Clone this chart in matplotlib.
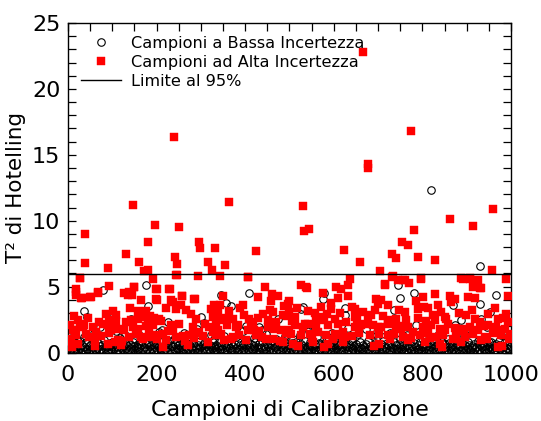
import matplotlib
matplotlib.use("Agg")
import matplotlib.pyplot as plt
from matplotlib.ticker import MultipleLocator

# Low-uncertainty calibration samples (sample index, T^2)
low_x = [
    1, 3, 5, 7, 9, 11, 13, 15, 17, 19, 21, 23, 26, 28, 30,
    32, 34, 36, 39, 41, 43, 45, 47, 49, 52, 54, 56, 58, 60, 62,
    64, 66, 68, 70, 73, 75, 77, 79, 81, 83, 85, 87, 89, 91, 94,
    96, 98, 100, 102, 104, 106, 108, 110, 112, 115, 117, 119, 121, 123, 125,
    127, 129, 131, 133, 136, 138, 140, 142, 144, 146, 148, 150, 152, 155, 157,
    159, 161, 163, 165, 167, 169, 171, 173, 176, 178, 180, 182, 184, 186, 188,
    190, 192, 194, 197, 199, 201, 203, 205, 207, 209, 211, 213, 215, 218, 220,
    222, 224, 226, 228, 230, 232, 234, 236, 239, 241, 243, 245, 247, 249, 251,
    253, 255, 257, 260, 262, 264, 266, 268, 270, 272, 274, 276, 278, 281, 283,
    285, 287, 289, 291, 293, 295, 297, 299, 302, 304, 306, 308, 310, 312, 314,
    316, 318, 320, 323, 325, 327, 329, 331, 333, 335, 337, 339, 341, 344, 346,
    348, 350, 352, 354, 356, 358, 360, 362, 365, 367, 369, 371, 373, 375, 377,
    379, 381, 383, 386, 388, 390, 392, 394, 396, 398, 400, 402, 404, 407, 409,
    411, 413, 415, 417, 419, 421, 423, 425, 428, 430, 432, 434, 436, 438, 440,
    442, 444, 446, 449, 451, 453, 455, 457, 459, 461, 463, 465, 467, 470, 472,
    474, 476, 478, 480, 482, 484, 486, 488, 491, 493, 495, 497, 499, 501, 503,
    505, 507, 509, 512, 514, 516, 518, 520, 522, 524, 526, 528, 530, 533, 535,
    537, 539, 541, 543, 545, 547, 549, 551, 554, 556, 558, 560, 562, 564, 566,
    568, 570, 572, 575, 577, 579, 581, 583, 585, 587, 589, 591, 593, 596, 598,
    600, 602, 604, 606, 608, 610, 612, 614, 617, 619, 621, 623, 625, 627, 629,
    631, 633, 635, 638, 640, 642, 644, 646, 648, 650, 652, 654, 656, 659, 661,
    663, 665, 667, 669, 671, 673, 675, 677, 680, 682, 684, 686, 688, 690, 692,
    694, 696, 698, 701, 703, 705, 707, 709, 711, 713, 715, 717, 719, 722, 724,
    726, 728, 730, 732, 734, 736, 738, 740, 743, 745, 747, 749, 751, 753, 755,
    757, 759, 761, 764, 766, 768, 770, 772, 774, 776, 778, 780, 782, 785, 787,
    789, 791, 793, 795, 797, 799, 801, 803, 806, 808, 810, 812, 814, 816, 818,
    820, 822, 824, 827, 829, 831, 833, 835, 837, 839, 841, 843, 845, 848, 850,
    852, 854, 856, 858, 860, 862, 864, 866, 869, 871, 873, 875, 877, 879, 881,
    883, 885, 887, 890, 892, 894, 896, 898, 900, 902, 904, 906, 908, 911, 913,
    915, 917, 919, 921, 923, 925, 927, 929, 932, 934, 936, 938, 940, 942, 944,
    946, 948, 950, 953, 955, 957, 959, 961, 963, 965, 967, 969, 971, 974, 976,
    978, 980, 982, 984, 986, 988, 990, 992, 995, 997, 999, 994, 972, 951, 930,
    12, 37, 44, 58, 80, 93, 108, 118, 142, 160, 175, 180, 196, 212, 225,
    240, 262, 278, 300, 308, 322, 345, 357, 368, 380, 395, 409, 420, 432, 439,
    473, 490, 523, 527, 530, 549, 562, 576, 579, 595, 610, 626, 626, 640, 655,
    673, 692, 710, 737, 745, 749, 765, 781, 786, 800, 819, 835, 858, 869, 873,
    888, 910, 929, 929, 933, 952, 967, 986, 998, 20, 150, 330, 470, 600, 750,
    35, 72, 128, 205, 256, 292, 352, 401, 448, 507, 543, 588, 632, 684, 726,
    772, 843, 895, 946, 978,
]
low_y = [
    .35, .12, .62, .28, .85, .18, .44, .08, .71, .25, .52, .15, .9, .33, .06,
    .58, .22, .41, .13, .77, .3, .05, .49, .2, .66, .1, .38, .84, .24, .55,
    .09, .36, .7, .17, .46, .27, .6, .11, .92, .32, .5, .07, .4, .19, .74,
    .29, .56, .14, .83, .34, .62, .05, .45, .21, .68, .12, .39, .88, .26, .53,
    .16, .72, .31, .08, .47, .2, .64, .37, .1, .8, .28, .51, .06, .43, .23,
    .67, .35, .12, .58, .89, .25, .42, .09, .61, .3, .76, .18, .48, .07, .55,
    .26, .82, .14, .4, .63, .22, .1, .5, .33, .78, .16, .44, .06, .59, .27,
    .71, .13, .38, .9, .21, .52, .08, .46, .3, .66, .11, .35, .81, .24, .57,
    .15, .43, .05, .69, .29, .5, .12, .86, .37, .2, .62, .09, .45, .27, .74,
    .17, .53, .34, .06, .6, .23, .87, .4, .13, .56, .31, .7, .1, .48, .19,
    .65, .28, .07, .52, .36, .83, .14, .44, .25, .6, .09, .39, .76, .18, .5,
    .3, .05, .67, .22, .41, .91, .12, .55, .32, .08, .73, .26, .47, .15, .62,
    .35, .1, .8, .24, .54, .07, .42, .19, .68, .3, .11, .58, .85, .2, .45,
    .06, .63, .29, .16, .5, .37, .78, .1, .43, .23, .66, .05, .34, .88, .17,
    .52, .28, .09, .61, .4, .14, .74, .31, .06, .55, .21, .84, .38, .12, .47,
    .25, .69, .08, .41, .18, .58, .33, .9, .13, .46, .27, .64, .05, .36, .2,
    .71, .1, .49, .3, .82, .15, .56, .07, .4, .24, .67, .12, .5, .34, .88,
    .19, .44, .06, .6, .27, .79, .14, .52, .32, .09, .65, .22, .43, .11, .75,
    .29, .55, .05, .38, .18, .62, .3, .86, .12, .47, .25, .7, .08, .41, .2,
    .57, .13, .35, .8, .06, .48, .27, .64, .15, .39, .1, .72, .31, .53, .07,
    .44, .21, .68, .12, .36, .89, .18, .5, .05, .61, .26, .42, .14, .77, .33,
    .09, .56, .23, .45, .1, .66, .3, .84, .16, .49, .07, .38, .6, .2, .11,
    .73, .28, .52, .13, .4, .06, .63, .25, .87, .17, .46, .32, .09, .58, .22,
    .7, .14, .43, .05, .35, .8, .19, .54, .28, .1, .65, .37, .08, .48, .24,
    .76, .13, .41, .2, .59, .06, .33, .9, .15, .47, .27, .69, .1, .39, .18,
    .55, .07, .3, .83, .22, .44, .12, .61, .35, .05, .5, .26, .74, .16, .4,
    .09, .57, .31, .85, .2, .46, .11, .67, .29, .06, .52, .23, .78, .14, .38,
    .62, .08, .42, .19, .7, .33, .1, .53, .26, .88, .15, .45, .05, .64, .3,
    .12, .49, .21, .73, .37, .07, .56, .18, .4, .82, .25, .6, .11, .34, .5,
    .06, .68, .28, .44, .13, .86, .22, .55, .09, .39, .74, .17, .48, .3, .05,
    .63, .24, .41, .12, .79, .33, .58, .08, .45, .2, .67, .14, .36, .9, .27,
    .52, .1, .43, .71, .19, .06, .57, .31, .84, .16, .47, .25, .6, .8, .9,
    1.2, 3.13, 2.7, 1.5, 4.72, 2.57, 1.6, 1.1, 2.57, 1.35, 5.15, 3.53, 1.25, 1.7, 2.32,
    1.05, 1.45, 1.15, 2.7, 2.27, 1.3, 4.34, 3.78, 3.53, 1.2, 1.6, 4.54, 1.1, 1.94, 1.68,
    2.57, 1.25, 1.3, 3.33, 3.46, 2.06, 1.15, 4.09, 4.54, 1.5, 1.2, 3.38, 2.87, 1.05, 1.4,
    1.81, 1.43, 1.2, 3.2, 5.1, 4.14, 1.3, 4.54, 2.11, 1.1, 12.35, 1.35, 1.05, 3.58, 2.06,
    2.44, 1.68, 3.71, 6.6, 2.57, 3.08, 4.39, 1.43, 1.2, .98, 1.0, 1.0, 1.05, .98, 1.0,
    1.15, 1.9, 1.3, 1.55, 1.1, 1.75, 1.25, 2.0, 1.4, 1.05, 1.65, 1.2, 1.85, 1.3, 1.5,
    1.1, 1.7, 1.25, 1.95, 1.35,
]

# High-uncertainty calibration samples (sample index, T^2)
high_x = [
    38, 147, 181, 197, 240, 251, 296, 299, 331, 364, 425, 531, 533, 543, 624,
    678, 678, 753, 768, 774, 782, 862, 915, 960, 667,
    38, 90, 132, 160, 172, 181, 242, 245, 245, 316, 326, 344, 354, 407, 293,
    659, 704, 731, 741, 789, 829, 958, 732, 27, 745, 756, 769, 798, 715,
    892, 907, 925, 917, 929,
    27, 18, 29, 52, 67, 93, 127, 135, 150, 193, 199, 229, 244, 257, 285,
    406, 445, 430, 460, 473, 389, 349, 330, 344, 338, 364, 372, 398, 409, 428,
    451, 462, 485, 494, 199, 221, 236, 244, 255, 266, 278, 289, 327, 176, 180,
    157, 165, 195, 206, 22, 26, 37, 56, 71, 86, 101, 108, 90, 105, 127,
    146, 157, 176, 191, 165, 199, 214, 236, 259, 274, 296, 319, 327, 345, 360,
    379, 387, 406, 413, 432, 451, 466, 481, 492, 11, 18, 7, 22, 41, 48,
    63, 74, 93, 105, 123, 138, 153, 184, 202, 221, 244, 289, 304, 315, 334,
    353, 372, 402, 424, 447, 462, 485, 90, 120, 93, 108, 157, 142, 342,
    17, 17, 31, 50, 67, 138, 145, 149, 164, 200, 202, 230, 232, 258, 287,
    459, 500, 540,
    527, 538, 636, 632, 606, 617, 576, 609, 594, 632, 715, 734, 760, 798, 801,
    828, 862, 873, 865, 888, 907, 914, 933, 903, 918, 989, 993, 696, 707, 722,
    700, 804, 813, 790, 843, 824, 760, 685, 666, 647, 640, 594, 572, 542, 512,
    500, 497, 568, 579, 602, 647, 677, 722, 741, 790, 828, 854, 899, 918, 948,
    971, 989, 993, 512, 530, 542, 560, 587, 609, 628, 647, 662, 688, 707, 722,
    741, 752, 767, 801, 820, 839, 850, 873, 892, 907, 925, 948, 967, 986, 504,
    527, 546, 564, 583, 602, 621, 640, 658, 681, 703, 722, 737, 756, 779, 794,
    813, 831, 846, 877, 896, 914, 941, 959, 978, 997, 508, 553, 587, 621, 703,
    767, 805, 839, 888, 933, 971, 579, 10, 60, 215, 270, 520, 690, 845, 980,
    5, 14, 33, 45, 60, 78, 97, 113, 130, 141, 170, 186, 210, 226, 250,
    263, 282, 310, 322, 338, 356, 368, 383, 395, 417, 437, 455, 470, 478, 488,
    505, 518, 535, 550, 557, 585, 598, 614, 625, 652, 670, 692, 711, 728, 748,
    763, 775, 785, 808, 818, 835, 858, 868, 882, 895, 912, 930, 945, 963, 982,
    996, 15, 66, 116, 182, 233, 285, 334, 420, 440, 500, 560, 616, 700, 757,
    850, 940, 975,
]
high_y = [
    9.0, 11.2, 8.4, 9.7, 16.35, 9.5, 8.4, 7.9, 7.95, 11.4, 7.7, 11.15, 9.2, 9.35, 7.8,
    14.3, 14.0, 8.4, 8.15, 16.8, 9.3, 10.1, 9.6, 10.9, 22.8,
    6.77, 6.44, 7.45, 6.85, 6.19, 6.26, 7.27, 6.7, 5.88, 6.85, 6.26, 5.83, 6.67, 5.76, 5.83,
    6.85, 6.16, 7.45, 7.2, 7.27, 7.0, 6.26, 5.76, 5.63, 5.5, 5.5, 5.25, 5.63, 5.18,
    5.56, 5.63, 5.5, 5.05, 4.87,
    5.66, 4.85, 4.14, 4.22, 4.54, 5.05, 4.54, 4.34, 4.97, 5.56, 4.8, 4.85, 5.86, 4.29, 4.04,
    5.73, 4.97, 4.22, 4.47, 4.29, 3.38, 4.29, 3.63, 3.58, 3.08, 3.13, 2.57, 2.82, 2.57, 2.62,
    2.5, 3.08, 2.82, 2.76, 4.04, 3.38, 3.84, 3.31, 3.58, 3.2, 2.95, 2.57, 2.7, 3.13, 2.51,
    3.13, 2.7, 2.6, 2.53, 2.44, 2.19, 2.06, 1.94, 2.32, 2.95, 3.13, 2.82, 2.06, 1.88, 1.68,
    1.94, 1.81, 2.0, 2.1, 1.18, 1.34, 1.43, 1.68, 1.28, 1.36, 1.56, 1.94, 1.56, 1.43, 2.06,
    1.9, 1.3, 1.68, 1.97, 1.63, 1.94, 1.81, 1.7, 1.45, 1.68, 1.33, 1.05, 0.67, 1.4, 1.18,
    1.56, 1.27, 1.46, 0.8, 0.84, 1.18, 1.4, 1.2, 1.05, 0.92, 1.15, 1.47, 1.22, 0.8, 1.3,
    0.92, 1.18, 0.95, 1.32, 1.05, 1.0, 0.8, 0.67, 0.54, 2.44, 2.4, 2.52, 2.46, 2.44,
    4.6, 4.35, 4.1, 4.2, 4.6, 4.6, 4.35, 5.0, 4.0, 4.82, 4.0, 4.82, 4.0, 4.31, 4.06,
    3.9, 3.9, 4.92,
    5.15, 4.97, 5.6, 5.1, 4.97, 4.85, 4.54, 4.14, 3.78, 4.29, 5.15, 5.8, 5.48, 5.6, 4.22,
    4.47, 4.29, 4.09, 3.84, 5.66, 5.6, 4.97, 4.9, 4.22, 4.14, 5.56, 4.29, 4.09, 3.97, 3.58,
    3.71, 3.46, 3.38, 3.33, 3.06, 2.81, 3.06, 2.87, 3.06, 3.33, 3.46, 3.33, 3.46, 3.13, 2.7,
    3.06, 3.71, 2.7, 2.44, 2.57, 2.7, 2.62, 2.5, 2.55, 2.6, 2.44, 2.57, 2.81, 2.52, 2.94,
    2.57, 2.94, 2.32, 2.06, 1.94, 2.19, 1.9, 2.06, 2.19, 2.32, 1.97, 2.06, 2.1, 1.94, 2.19,
    2.02, 1.81, 1.94, 1.9, 2.06, 1.81, 1.68, 1.85, 1.78, 1.94, 1.68, 2.06, 1.92, 1.81, 1.43,
    1.3, 1.4, 1.56, 1.33, 1.43, 1.56, 1.27, 1.46, 1.3, 1.4, 1.35, 1.43, 1.18, 1.56, 1.3,
    1.47, 1.18, 1.3, 1.43, 1.2, 1.4, 1.15, 1.45, 1.3, 1.42, 0.67, 0.8, 0.67, 0.8, 0.67,
    0.92, 0.8, 0.67, 0.8, 0.92, 0.42, 0.42, 0.45, 0.5, 0.4, 0.55, 0.48, 0.52, 0.44, 0.5,
    2.1, 2.8, 1.9, 2.6, 0.9, 2.2, 1.7, 0.95, 2.3, 3.4, 1.0, 2.8, 2.4, 1.6, 2.2,
    0.9, 1.9, 2.2, 3.3, 1.7, 2.6, 1.0, 2.1, 3.6, 2.3, 1.2, 3.2, 2.3, 0.9, 3.5,
    2.4, 3.4, 2.2, 1.1, 3.0, 2.9, 1.0, 3.0, 1.2, 2.5, 2.2, 3.2, 2.8, 1.0, 3.2,
    2.5, 1.1, 3.9, 2.4, 1.1, 3.6, 2.2, 1.0, 3.0, 1.6, 3.2, 2.3, 1.0, 3.4, 2.6,
    1.0, 1.6, 1.3, 1.8, 1.6, 2.1, 1.1, 2.2, 1.7, 2.9, 1.7, 2.5, 1.3, 1.9, 2.0,
    2.7, 2.0, 1.7,
]

limit_95 = 5.99

x_ticks = [0, 200, 400, 600, 800, 1000]
y_ticks = [0, 5, 10, 15, 20, 25]

fig = plt.figure(figsize=(5.41, 4.21), dpi=100)
ax = fig.add_axes([0.1257, 0.1627, 0.8188, 0.7827])

ax.plot(low_x, low_y, linestyle="none", marker="o", markersize=5.4,
        markerfacecolor="none", markeredgecolor="black", markeredgewidth=0.8,
        label="Campioni a Bassa Incertezza", zorder=2)
ax.plot(high_x, high_y, linestyle="none", marker="s", markersize=5.6,
        markerfacecolor="#ff0000", markeredgecolor="#ff0000", markeredgewidth=0.3,
        label="Campioni ad Alta Incertezza", zorder=3)
ax.axhline(limit_95, color="black", linewidth=1.0, label="Limite al 95%", zorder=4)

ax.set_xlim(0, 1000)
ax.set_ylim(0, 25)
ax.set_xticks(x_ticks)
ax.set_yticks(y_ticks)
ax.xaxis.set_minor_locator(MultipleLocator(50))
ax.yaxis.set_minor_locator(MultipleLocator(1))
ax.tick_params(which="both", direction="in", top=True, right=True,
               length=6, width=0.9, labelsize=16)
ax.tick_params(axis="y", which="both", pad=5.5)
ax.tick_params(axis="x", which="both", pad=9)
for s in ax.spines.values():
    s.set_linewidth(1.0)

ax.set_xlabel("Campioni di Calibrazione", fontsize=16, labelpad=11)
ax.set_ylabel("T² di Hotelling", fontsize=15.5, labelpad=4)

ax.legend(loc="upper left", frameon=False, fontsize=11.6, handlelength=2.5,
          handletextpad=0.6, labelspacing=0.25, borderaxespad=0.4,
          bbox_to_anchor=(0.0, 1.0))

fig.savefig("out.png", dpi=100)
